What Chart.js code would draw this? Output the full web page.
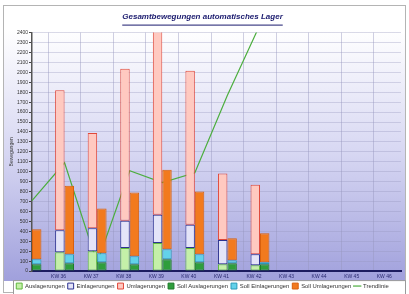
<!DOCTYPE html>
<html>
<head>
<meta charset="utf-8">
<style>
  html, body { margin: 0; padding: 0; background: #fff; }
  #chartLager { display: block; }
</style>
</head>
<body>
<canvas id="chartLager" width="409" height="294"></canvas>
<script src="https://cdn.jsdelivr.net/npm/chart.js"></script>
<script>
// Daten
var wochen = ['KW 35', 'KW 36', 'KW 37', 'KW 38', 'KW 39', 'KW 40', 'KW 41', 'KW 42', 'KW 43', 'KW 44', 'KW 45', 'KW 46']
var auslagerungen = [150, 190, 200, 233, 284, 233, 70, 60, null, null, null, null]
var einlagerungen = [200, 220, 230, 274, 284, 233, 243, 110, null, null, null, null]
var umlagerungen = [1200, 1410, 960, 1530, 1880, 1550, 670, 700, null, null, null, null]
var sollAuslagerungen = [70, 80, 90, 70, 120, 90, 80, 70, null, null, null, null]
var sollEinlagerungen = [50, 90, 90, 80, 100, 80, 30, 20, null, null, null, null]
var sollUmlagerungen = [300, 690, 450, 640, 800, 630, 220, 290, null, null, null, null]
var trendlinie = [710, 1090, 80, 1010, 890, 990, 1770, 2480, null, null, null, null]

var schrift = '"Liberation Sans", Arial, sans-serif'

var rahmen = {
    id: 'rahmen',
    beforeDraw: function (chart) {
        var ctx = chart.ctx
        ctx.save()
        ctx.fillStyle = '#ffffff'
        ctx.fillRect(0, 0, chart.width, chart.height)
        var g = ctx.createLinearGradient(0, 30, 0, 281)
        g.addColorStop(0, '#ffffff')
        g.addColorStop(0.5, '#d6d6f2')
        g.addColorStop(1, '#a0a0dc')
        ctx.fillStyle = g
        ctx.fillRect(4, 30, 402, 251)
        ctx.strokeStyle = '#b4b4b4'
        ctx.lineWidth = 1
        ctx.strokeRect(3.5, 5.5, 402, 287)
        // Legendenkasten
        var l = chart.legend
        ctx.fillStyle = '#ffffff'
        ctx.fillRect(13, l.top + 0.5, 393, l.height - 1)
        ctx.strokeStyle = '#9a9a9a'
        ctx.strokeRect(13.5, l.top + 0.5, 392, l.height - 1)
        ctx.restore()
    },
    afterDraw: function (chart) {
        // Titel unterstreichen
        var t = chart.titleBlock
        var ctx = chart.ctx
        ctx.save()
        ctx.font = 'italic bold 8px ' + schrift
        var w = ctx.measureText(chart.options.plugins.title.text).width
        var cx = (t.left + t.right) / 2
        var y = t.top + t.height - 7.5
        ctx.strokeStyle = '#1a1a6e'
        ctx.lineWidth = 1
        ctx.beginPath()
        ctx.moveTo(cx - w / 2, y)
        ctx.lineTo(cx + w / 2, y)
        ctx.stroke()
        ctx.restore()
    }
}

var ctxLager = document.getElementById('chartLager')

var chartLager = new Chart(ctxLager, {
    type: 'bar',
    data: {
        labels: wochen,
        datasets: [
            { label: 'Auslagerungen', data: auslagerungen, stack: 'ist', backgroundColor: '#c4f0a8', borderColor: '#5fb83c', borderWidth: 1, borderSkipped: false, pointStyle: 'rect' },
            { label: 'Einlagerungen', data: einlagerungen, stack: 'ist', backgroundColor: '#e4e4f8', borderColor: '#2c3290', borderWidth: 1, borderSkipped: false, pointStyle: 'rect' },
            { label: 'Umlagerungen', data: umlagerungen, stack: 'ist', backgroundColor: '#ffc9c0', borderColor: '#e0483a', borderWidth: 1, borderSkipped: false, pointStyle: 'rect' },
            { label: 'Soll Auslagerungen', data: sollAuslagerungen, stack: 'soll', backgroundColor: '#2f9e3c', borderColor: '#1d7a2a', borderWidth: 1, borderSkipped: false, pointStyle: 'rect' },
            { label: 'Soll Einlagerungen', data: sollEinlagerungen, stack: 'soll', backgroundColor: '#62d2ea', borderColor: '#2a9ab8', borderWidth: 1, borderSkipped: false, pointStyle: 'rect' },
            { label: 'Soll Umlagerungen', data: sollUmlagerungen, stack: 'soll', backgroundColor: '#f27a1e', borderColor: '#d8600e', borderWidth: 1, borderSkipped: false, pointStyle: 'rect' },
            { type: 'line', label: 'Trendlinie', data: trendlinie, borderColor: '#4cae3e', backgroundColor: '#4cae3e', borderWidth: 1.2, pointRadius: 0, pointStyle: 'line', tension: 0 }
        ]
    },
    options: {
        responsive: false,
        animation: false,
        layout: { padding: { left: 4, right: 8, top: 6, bottom: -5 } },
        datasets: {
            bar: { categoryPercentage: 0.58, barPercentage: 1 }
        },
        plugins: {
            title: {
                display: true,
                text: 'Gesamtbewegungen automatisches Lager',
                color: '#1a1a6e',
                font: { family: schrift, size: 8, style: 'italic', weight: 'bold' },
                padding: { top: 6, bottom: 11 }
            },
            legend: {
                position: 'bottom',
                align: 'center',
                labels: {
                    usePointStyle: true,
                    boxWidth: 6,
                    boxHeight: 6,
                    padding: 3,
                    color: '#333',
                    font: { family: schrift, size: 5.9 }
                }
            },
            tooltip: { enabled: false }
        },
        scales: {
            x: {
                stacked: true,
                offset: false,
                afterFit: function (s) { s.height = 9 },
                // letzte Woche liegt etwas vor dem rechten Rand
                afterBuildTicks: function (s) { s._valueRange = 11.33 },
                grid: { offset: true, color: 'rgba(150,150,190,0.45)', lineWidth: 1, drawTicks: false },
                border: { color: '#1c1c60', width: 2 },
                ticks: {
                    autoSkip: false,
                    maxRotation: 0,
                    labelOffset: -6,
                    padding: 3,
                    color: '#2a2a70',
                    font: { family: schrift, size: 5 },
                    callback: function (v, i) { return i === 0 ? '' : this.getLabelForValue(v) }
                }
            },
            y: {
                stacked: true,
                min: 0,
                max: 2400,
                afterFit: function (s) { s.width = 28 },
                title: {
                    display: true,
                    text: 'Bewegungen',
                    color: '#333',
                    padding: { top: 5, bottom: 0 },
                    font: { family: schrift, size: 5 }
                },
                grid: { color: 'rgba(150,150,190,0.35)', tickLength: 3, tickColor: '#444' },
                border: { color: '#555', width: 1.5 },
                ticks: {
                    stepSize: 100,
                    autoSkip: false,
                    padding: 1,
                    color: '#333',
                    font: { family: schrift, size: 5 },
                    callback: function (v) { return String(v) }
                }
            }
        }
    },
    plugins: [rahmen]
})
</script>
</body>
</html>
